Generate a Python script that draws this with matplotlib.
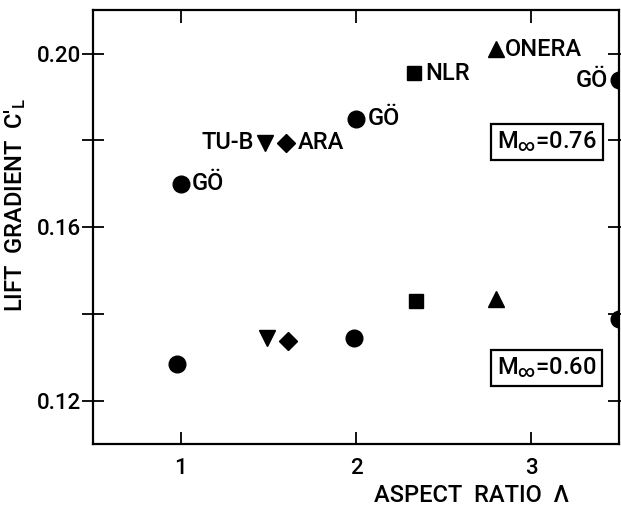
import matplotlib
matplotlib.use("Agg")
import matplotlib.pyplot as plt

plt.rcParams['font.family'] = ['Roboto', 'DejaVu Sans']
plt.rcParams['font.weight'] = 'medium'
plt.rcParams['axes.labelweight'] = 'medium'
plt.rcParams['mathtext.fontset'] = 'custom'
plt.rcParams['mathtext.rm'] = 'Roboto:medium'
plt.rcParams['mathtext.it'] = 'Roboto:medium'
plt.rcParams['mathtext.bf'] = 'Roboto:bold'

# facility labels and marker shapes
facilities = ["GÖ", "TU-B", "ARA", "GÖ", "NLR", "ONERA", "GÖ"]
markers = ["o", "v", "D", "o", "s", "^", "o"]

# M = 0.76
aspect_076 = [1.0, 1.48, 1.60, 2.0, 2.33, 2.80, 3.5]
cl_076 = [0.170, 0.1795, 0.1795, 0.185, 0.1955, 0.2010, 0.1938]

# M = 0.60
aspect_060 = [0.98, 1.49, 1.61, 1.99, 2.34, 2.80, 3.5]
cl_060 = [0.1285, 0.1345, 0.1337, 0.1344, 0.1430, 0.1433, 0.1388]

fig = plt.figure(figsize=(6.21, 5.12), dpi=100)
ax = fig.add_axes([0.150, 0.133, 0.847, 0.847])

msize = {"o": 12, "v": 11, "D": 9, "s": 9.5, "^": 11}
for x, y, m in zip(aspect_076, cl_076, markers):
    ax.plot(x, y, marker=m, color="black", markersize=msize[m], linestyle="none")
for x, y, m in zip(aspect_060, cl_060, markers):
    ax.plot(x, y, marker=m, color="black", markersize=msize[m], linestyle="none")

fs = 17
# labels next to upper points
offsets = [(0.065, "left"), (-0.06, "right"), (0.065, "left"), (0.065, "left"),
           (0.065, "left"), (0.05, "left"), (-0.065, "right")]
for x, y, name, (dx, ha) in zip(aspect_076, cl_076, facilities, offsets):
    ax.text(x + dx, y, name, ha=ha, va="center", fontsize=fs)

box = dict(boxstyle="square,pad=0.25", facecolor="white", edgecolor="black", linewidth=1.6)
ax.text(3.087, 0.1797, r"M$_{\infty}$=0.76", ha="center", va="center", fontsize=fs, bbox=box)
ax.text(3.087, 0.1275, r"M$_{\infty}$=0.60", ha="center", va="center", fontsize=fs, bbox=box)

ax.set_xlim(0.5, 3.5)
ax.set_ylim(0.110, 0.210)
ax.set_xticks([1, 2, 3])
ax.set_xticklabels(["1", "2", "3"])
ax.set_yticks([0.12, 0.14, 0.16, 0.18, 0.20])
ax.set_yticklabels(["0.12", "", "0.16", "", "0.20"])
ax.tick_params(direction="in", length=9, width=1.3, labelsize=16,
               top=True, right=True, pad=10)
ax.tick_params(axis="y", direction="inout", length=16, pad=1)
for sp in ax.spines.values():
    sp.set_linewidth(1.6)

ax.set_xlabel("ASPECT  RATIO  Λ", fontsize=fs)
ax.xaxis.set_label_coords(0.72, -0.092)
ax.set_ylabel(r"LIFT  GRADIENT  C$'_{L}$", fontsize=fs)
ax.yaxis.set_label_coords(-0.124, 0.55)

fig.savefig("out.png", dpi=100)
